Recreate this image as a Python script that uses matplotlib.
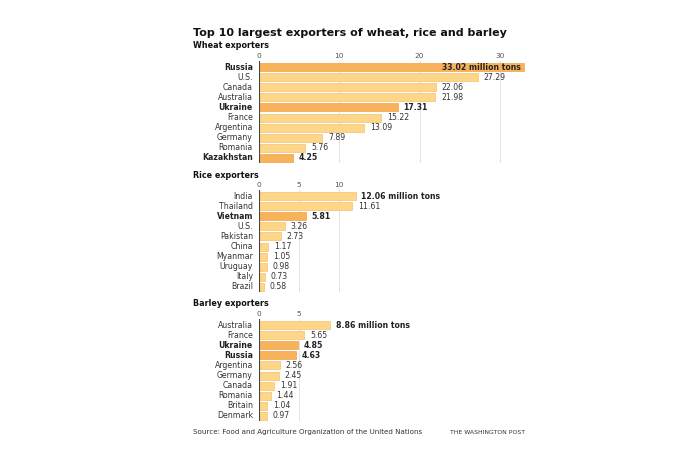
import matplotlib.pyplot as plt
import numpy as np

# data
wheat_countries = ["Russia", "U.S.", "Canada", "Australia", "Ukraine", "France",
                   "Argentina", "Germany", "Romania", "Kazakhstan"]
wheat_values = [33.02, 27.29, 22.06, 21.98, 17.31, 15.22, 13.09, 7.89, 5.76, 4.25]
wheat_hi = ["Russia", "Ukraine", "Kazakhstan"]
wheat_ticks = [0, 10, 20, 30]

rice_countries = ["India", "Thailand", "Vietnam", "U.S.", "Pakistan", "China",
                  "Myanmar", "Uruguay", "Italy", "Brazil"]
rice_values = [12.06, 11.61, 5.81, 3.26, 2.73, 1.17, 1.05, 0.98, 0.73, 0.58]
rice_hi = ["Vietnam"]
rice_ticks = [0, 5, 10]

barley_countries = ["Australia", "France", "Ukraine", "Russia", "Argentina",
                    "Germany", "Canada", "Romania", "Britain", "Denmark"]
barley_values = [8.86, 5.65, 4.85, 4.63, 2.56, 2.45, 1.91, 1.44, 1.04, 0.97]
barley_hi = ["Ukraine", "Russia"]
barley_ticks = [0, 5]

W, H = 695, 450
light = "#fdd687"
light_edge = "#f3c172"
dark = "#f8b35a"
dark_edge = "#eda44a"
txt = "#222222"
grey = "#555555"

plt.rcParams['font.family'] = ['DejaVu Sans']
fig = plt.figure(figsize=(W / 100, H / 100), dpi=100)

px_per_unit = 8.03
x0 = 259
xmax = 34


def panel(top, countries, values, hi, ticks, label_inside_first=False):
    bottom = top + 102
    ax = fig.add_axes([x0 / W, 1 - bottom / H, xmax * px_per_unit / W, 102 / H])
    y = np.arange(len(countries))
    cols = [dark if c in hi else light for c in countries]
    edges = [dark_edge if c in hi else light_edge for c in countries]
    ax.barh(y, values, height=0.8, color=cols, edgecolor=edges, linewidth=0.5, zorder=2)
    ax.set_ylim(9.5, -0.6)
    ax.set_xlim(0, xmax)
    for t in ticks:
        if t == 0:
            ax.axvline(0, color="#444444", lw=0.8, zorder=3)
        else:
            ax.axvline(t, color="#dddddd", lw=0.6, zorder=1)
    ax.xaxis.tick_top()
    ax.set_xticks(ticks)
    ax.set_xticklabels([str(t) for t in ticks])
    ax.tick_params(axis="x", length=0, pad=1.5, labelsize=5.3, labelcolor=grey)
    ax.set_yticks([])
    for s in ax.spines.values():
        s.set_visible(False)
    ax.patch.set_alpha(0)
    for i, (c, v) in enumerate(zip(countries, values)):
        bold = c in hi
        ax.text(-0.75, i, c, ha="right", va="center", fontsize=5.6,
                fontweight="bold" if bold else "normal", color=txt if bold else "#333333")
        s = f"{v:.2f}"
        if i == 0:
            s += " million tons"
        w = "bold" if (bold or i == 0) else "normal"
        if i == 0 and label_inside_first:
            ax.text(v - 0.35, i, s, ha="right", va="center", fontsize=5.6,
                    fontweight=w, color=txt, zorder=4)
        else:
            ax.text(v + 0.7, i, s, ha="left", va="center", fontsize=5.6,
                    fontweight=w, color=txt if w == "bold" else "#333333", zorder=4)
    return ax


panel(61, wheat_countries, wheat_values, wheat_hi, wheat_ticks, label_inside_first=True)
panel(190, rice_countries, rice_values, rice_hi, rice_ticks)
panel(319, barley_countries, barley_values, barley_hi, barley_ticks)

fig.text(193 / W, 1 - 33 / H, "Top 10 largest exporters of wheat, rice and barley",
         fontsize=8, fontweight="bold", color="#111111", va="center", ha="left")
fig.text(193 / W, 1 - 46 / H, "Wheat exporters", fontsize=5.8, fontweight="bold",
         color="#111111", va="center")
fig.text(193 / W, 1 - 175 / H, "Rice exporters", fontsize=5.8, fontweight="bold",
         color="#111111", va="center")
fig.text(193 / W, 1 - 304 / H, "Barley exporters", fontsize=5.8, fontweight="bold",
         color="#111111", va="center")
fig.text(193 / W, 1 - 432 / H, "Source: Food and Agriculture Organization of the United Nations",
         fontsize=5.1, color="#333333", va="center")
fig.text(525 / W, 1 - 432 / H, "THE WASHINGTON POST", fontsize=4.4, color="#333333",
         va="center", ha="right")

fig.savefig("out.png", dpi=100)
